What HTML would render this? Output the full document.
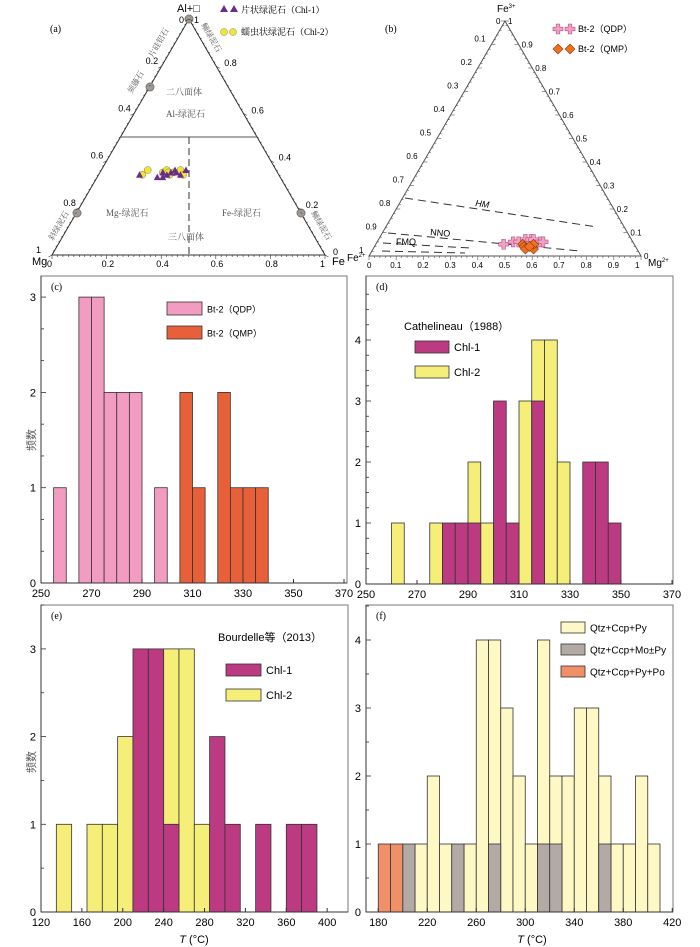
<!DOCTYPE html>
<html><head><meta charset="utf-8">
<style>
body{margin:0;background:#fff}
svg{display:block;font-family:"Liberation Sans","Noto Sans CJK SC",sans-serif}
.s{font-family:"Liberation Serif","Noto Serif CJK SC",serif}
</style></head>
<body>
<svg id="fig" width="700" height="947" viewBox="0 0 700 947" xmlns="http://www.w3.org/2000/svg">
<g id="ta">
 <polygon points="52,255 325,255 189,19" fill="none" stroke="#333" stroke-width="1"/>
 <line x1="120" y1="137" x2="257" y2="137" stroke="#555" stroke-width="1"/>
 <line x1="189" y1="137" x2="189" y2="255" stroke="#333" stroke-dasharray="7,4"/>
 <text x="50" y="32" font-size="10" class="s">(a)</text>
 <text x="177" y="12" font-size="11">Al+□</text>
 <text x="32" y="265" font-size="11">Mg</text>
 <text x="332" y="265" font-size="11">Fe</text>
 <text x="166" y="95" font-size="9" fill="#555" class="s">二八面体</text>
 <text x="166" y="117" font-size="9" fill="#555" class="s">Al-绿泥石</text>
 <text x="106" y="216" font-size="9" fill="#555" class="s">Mg-绿泥石</text>
 <text x="222" y="216" font-size="9" fill="#555" class="s">Fe-绿泥石</text>
 <text x="168" y="240" font-size="9" fill="#555" class="s">三八面体</text>
 <text x="153" y="58" font-size="8" fill="#555" class="s" transform="rotate(-60 153 58)">片硅铝石</text>
 <text x="132" y="94" font-size="8" fill="#555" class="s" transform="rotate(-60 132 94)">须藤石</text>
 <text x="53" y="241" font-size="8" fill="#555" class="s" transform="rotate(-60 53 241)">斜绿泥石</text>
 <text x="201" y="25" font-size="8" fill="#555" class="s" transform="rotate(60 201 25)">鲕绿泥石</text>
 <text x="311" y="213" font-size="8" fill="#555" class="s" transform="rotate(60 311 213)">鲕绿泥石</text>
 <circle cx="189" cy="19" r="4" fill="#a09a94" stroke="#777"/>
 <circle cx="150" cy="87" r="4" fill="#a09a94" stroke="#777"/>
 <circle cx="77" cy="213" r="4" fill="#a09a94" stroke="#777"/>
 <circle cx="301" cy="213" r="4" fill="#a09a94" stroke="#777"/>
 <polygon points="220,12 224,5 228,12" fill="#6a2d8a"/><polygon points="230,12 234,5 238,12" fill="#6a2d8a"/>
 <text x="241" y="13" font-size="9" class="s">片状绿泥石（Chl-1）</text>
 <circle cx="224" cy="32" r="3.5" fill="#f0e62a" stroke="#888" stroke-width=".5"/><circle cx="233" cy="32" r="3.5" fill="#f0e62a" stroke="#888" stroke-width=".5"/>
 <text x="241" y="35" font-size="9" class="s">蠕虫状绿泥石（Chl-2）</text>
 <g id="ptsA"></g>
</g>
<g id="tb">
 <polygon points="369,256 641,256 505,21" fill="none" stroke="#555" stroke-width="1"/>
 <text x="385" y="32" font-size="10" class="s">(b)</text>
 <text x="497" y="12" font-size="10">Fe<tspan font-size="6" dy="-4">3+</tspan></text>
 <text x="347" y="261" font-size="10">Fe<tspan font-size="6" dy="-4">2+</tspan></text>
 <text x="648" y="266" font-size="10">Mg<tspan font-size="6" dy="-4">2+</tspan></text>
 <line x1="405" y1="198" x2="597" y2="227" stroke="#333" stroke-dasharray="8,5"/>
 <line x1="388" y1="233" x2="580" y2="251" stroke="#333" stroke-dasharray="8,5"/>
 <line x1="383" y1="243" x2="470" y2="248" stroke="#333" stroke-dasharray="8,5"/>
 <line x1="382" y1="251" x2="465" y2="253" stroke="#333" stroke-dasharray="8,5"/>
 <text x="475" y="206" font-size="9" font-style="italic" transform="rotate(8 475 206)">HM</text>
 <text x="430" y="235" font-size="9" transform="rotate(5 430 235)">NNO</text>
 <text x="396" y="245" font-size="9">FMQ</text>
 <text x="578" y="32" font-size="9">Bt-2（QDP）</text>
 <text x="578" y="52" font-size="9">Bt-2（QMP）</text>
 <g id="legB"></g><g id="ptsB"></g>
</g>
<g id="hist"></g>
</svg>
<script>
// ---- panel (c) data ----
const cBins=[255,265,270,275,280,285,295,305,310,320,325,330,335];
const cQDP=[1,3,3,2,2,2,1,0,0,0,0,0,0];
const cQMP=[0,0,0,0,0,0,0,2,1,2,1,1,1];
// ---- panel (d) data ----
const dBins=[260,275,280,285,290,295,300,305,310,315,320,325,335,340,345];
const dChl2=[1,1,0,0,2,1,0,0,3,4,4,2,0,0,0];
const dChl1=[0,0,1,1,1,0,3,1,0,3,0,0,2,2,1];
// ---- panel (e) data ----
const eBins=[135,165,180,195,210,225,240,255,270,285,300,330,360,375];
const eChl2=[1,1,1,2,0,0,3,3,1,0,0,0,0,0];
const eChl1=[0,0,0,0,3,3,1,0,0,2,1,1,1,1];
// ---- panel (f) data ----
const fBins=[180,190,200,210,220,230,240,250,260,270,280,290,300,310,320,330,340,350,360,370,380,390,400];
const fPy=[0,0,0,1,2,1,0,1,4,4,3,2,1,4,2,2,3,3,2,1,1,2,1];
const fMo=[0,0,1,0,0,0,1,0,0,1,0,0,0,1,1,0,0,0,1,0,0,0,0];
const fPo=[1,1,0,0,0,0,0,0,0,0,0,0,0,0,0,0,0,0,0,0,0,0,0];
// ---- ternary point data ----
const aChl1Al=[0.34,0.33,0.35,0.34,0.35,0.36,0.35,0.34,0.36,0.33];
const aChl1Fe=[0.15,0.22,0.23,0.25,0.26,0.27,0.28,0.3,0.31,0.24];
const aChl2Al=[0.36,0.34,0.35,0.36,0.34,0.35,0.36,0.34,0.35];
const aChl2Fe=[0.17,0.16,0.23,0.24,0.26,0.27,0.29,0.31,0.25];
const bQDPFe3=[0.05,0.06,0.06,0.07,0.07,0.07,0.06,0.06];
const bQDPMg=[0.47,0.5,0.52,0.54,0.56,0.57,0.6,0.61];
const bQMPFe3=[0.05,0.04,0.03,0.04,0.03,0.05,0.04];
const bQMPMg=[0.54,0.55,0.56,0.58,0.59,0.58,0.57];

const NS='http://www.w3.org/2000/svg';
function mk(p,tag,at,txt){const e=document.createElementNS(NS,tag);for(const k in at)e.setAttribute(k,at[k]);if(txt!==undefined)e.textContent=txt;p.appendChild(e);return e;}
const H=document.getElementById('hist');

(function(){
 const g=document.getElementById('ta');
 const L=[52,255],R=[325,255],T=[189,19];
 for(let i=0;i<=50;i++){const f=i/50,len=i%10==0?4:2;
  let x=L[0]+f*(R[0]-L[0]);mk(g,'line',{x1:x,y1:255,x2:x,y2:255+len,stroke:'#333','stroke-width':.6});
  let xl=T[0]+f*(L[0]-T[0]),yl=T[1]+f*(L[1]-T[1]);mk(g,'line',{x1:xl,y1:yl,x2:xl-len*.87,y2:yl+len*.5,stroke:'#333','stroke-width':.6});
  let xr=T[0]+f*(R[0]-T[0]),yr=T[1]+f*(R[1]-T[1]);mk(g,'line',{x1:xr,y1:yr,x2:xr+len*.87,y2:yr+len*.5,stroke:'#333','stroke-width':.6});
 }
 for(let i=0;i<=5;i++){const f=i/5,s=['0','0.2','0.4','0.6','0.8','1'][i];
  mk(g,'text',{x:L[0]+f*273-5,y:267,'font-size':9},s);
  mk(g,'text',{x:T[0]+f*(L[0]-T[0])-(i==0?10:16),y:T[1]+f*236-(i==0?-4:2),'font-size':9},s);
  mk(g,'text',{x:T[0]+f*(R[0]-T[0])+(i==0?5:8),y:T[1]+f*236+(i==0?4:0),'font-size':9},['1','0.8','0.6','0.4','0.2','0'][i]);
 }
 const P=document.getElementById('ptsA');
 function pos(al,fe){const mg=1-al-fe;return [L[0]*mg+R[0]*fe+T[0]*al,L[1]*mg+R[1]*fe+T[1]*al];}
 aChl2Al.forEach((a,i)=>{const p=pos(a,aChl2Fe[i]);const c=mk(P,'circle',{cx:p[0],cy:p[1],r:3.5,fill:'#f0e62a',stroke:'#777','stroke-width':.5});
  
  });
 aChl1Al.forEach((a,i)=>{const p=pos(a,aChl1Fe[i]);const c=mk(P,'polygon',{points:`${p[0]-3.5},${p[1]+3} ${p[0]},${p[1]-3.5} ${p[0]+3.5},${p[1]+3}`,fill:'#6a2d8a'});
  
  });
})();
(function(){
 const g=document.getElementById('tb');
 const L=[369,256],R=[641,256],T=[505,21];
 for(let i=0;i<=50;i++){const f=i/50,len=i%5==0?4:2;
  let x=L[0]+f*272;mk(g,'line',{x1:x,y1:256,x2:x,y2:256+len,stroke:'#555','stroke-width':.6});
  let xl=T[0]+f*(L[0]-T[0]),yl=T[1]+f*235;mk(g,'line',{x1:xl,y1:yl,x2:xl+len,y2:yl,stroke:'#555','stroke-width':.6});
  let xr=T[0]+f*(R[0]-T[0]),yr=T[1]+f*235;mk(g,'line',{x1:xr,y1:yr,x2:xr-len,y2:yr,stroke:'#555','stroke-width':.6});
 }
 for(let i=0;i<=10;i++){const f=i/10,s=i==0?'0':i==10?'1':(i/10).toFixed(1);
  mk(g,'text',{x:L[0]+f*272-(i==0?2:6),y:268,'font-size':8},s);
  if(i>0)mk(g,'text',{x:T[0]+f*(L[0]-T[0])-(i==10?10:17),y:T[1]+f*235-3,'font-size':8},s);
  mk(g,'text',{x:T[0]+f*(R[0]-T[0])+3,y:T[1]+f*235+3,'font-size':8},(10-i)==0?'0':(10-i)==10?'1':((10-i)/10).toFixed(1));
 }
 mk(g,'text',{x:496,y:24,'font-size':8},'0');
 const P=document.getElementById('ptsB');
 function cross(x,y,p){return mk(p,'path',{d:`M${x-1.8},${y-5}h3.6v3.2h3.2v3.6h-3.2v3.2h-3.6v-3.2h-3.2v-3.6h3.2z`,fill:'#f2a0c4',stroke:'#b05080','stroke-width':.6});}
 function dia(x,y,p){return mk(p,'polygon',{points:`${x},${y-5} ${x+5},${y} ${x},${y+5} ${x-5},${y}`,fill:'#f07020',stroke:'#8a3a10','stroke-width':.6});}
 function pos(f3,mg){const f2=1-f3-mg;return [L[0]*f2+R[0]*mg+T[0]*f3,L[1]*f2+R[1]*mg+T[1]*f3];}
 const Lg=document.getElementById('legB');cross(558,29,Lg);cross(570,29,Lg);dia(558,49,Lg);dia(570,49,Lg);
 bQDPFe3.forEach((f,i)=>{const p=pos(f,bQDPMg[i]);const c=cross(p[0],p[1],P);
  
  });
 bQMPFe3.forEach((f,i)=>{const p=pos(f,bQMPMg[i]);const c=dia(p[0],p[1],P);
  
  });
})();

function panel(cfg){
 const g=mk(H,'g',{});
 
 
 const X=v=>cfg.x0+(v-cfg.xmin)*cfg.kx, Y=v=>cfg.y0-v*cfg.ky;
 mk(g,'rect',{x:cfg.x0,y:cfg.top,width:cfg.right-cfg.x0,height:cfg.y0-cfg.top,fill:'none',stroke:'#777','stroke-width':1});
 cfg.series.forEach(s=>{cfg.bins.forEach((b,i)=>{const v=s.vals[i];if(!v)return;
  const r=mk(g,'rect',{x:X(b),y:Y(v),width:X(b+cfg.w)-X(b),height:v*cfg.ky,fill:s.color,stroke:'#333','stroke-width':.8});
  
  });});
 mk(g,'line',{x1:cfg.x0,y1:cfg.y0,x2:cfg.right,y2:cfg.y0,stroke:'#333','stroke-width':1});
 mk(g,'line',{x1:cfg.x0,y1:cfg.top,x2:cfg.x0,y2:cfg.y0,stroke:'#333','stroke-width':1});
 cfg.xt.forEach(t=>{mk(g,'line',{x1:X(t),y1:cfg.y0,x2:X(t),y2:cfg.y0-4,stroke:'#333'});
  mk(g,'text',{x:X(t),y:cfg.y0+14,'font-size':11,'text-anchor':'middle'},String(t));});
 for(let v=0;v<=cfg.ymax;v+=cfg.ym){const maj=Math.abs(v-Math.round(v))<1e-6;
  mk(g,'line',{x1:cfg.x0,y1:Y(v),x2:cfg.x0+(maj?5:3),y2:Y(v),stroke:'#333','stroke-width':.8});
  if(maj)mk(g,'text',{x:cfg.x0-5,y:Y(v)+4,'font-size':11,'text-anchor':'end'},String(Math.round(v)));}
 mk(g,'text',{x:cfg.x0+10,y:cfg.top+14,'font-size':10,class:'s'},cfg.label);
 cfg.leg.forEach(l=>{mk(g,'rect',{x:l[0],y:l[1],width:l[2],height:l[3],fill:l[4],stroke:'#333','stroke-width':.8});
  mk(g,'text',{x:l[0]+l[2]+5,y:l[1]+l[3]/2+4,'font-size':l[6]||9},l[5]);});
 (cfg.extra||[]).forEach(e=>mk(g,'text',e[0],e[1]));
 if(cfg.xtitle){const t=mk(g,'text',{x:cfg.xtitle,y:943,'font-size':11,'text-anchor':'middle'});
  mk(t,'tspan',{'font-style':'italic'},'T');mk(t,'tspan',{},' (°C)');}
}
panel({name:'histogram-c',label:'(c)',x0:41,xmin:250,kx:2.525,y0:583,ky:95.3,top:276,right:347,w:5,bins:cBins,
 series:[{key:'qdp',vals:cQDP,color:'#f39cc2'},{key:'qmp',vals:cQMP,color:'#e8603a'}],
 xt:[250,270,290,310,330,350,370],ymax:3,ym:1/3,
 leg:[[167,302,35,13,'#f39cc2','Bt-2（QDP）'],[167,326,35,13,'#e8603a','Bt-2（QMP）']],
 extra:[[{x:35,y:440,'font-size':11,transform:'rotate(-90 35 440)','text-anchor':'middle',fill:'#555'},'频数']]});
panel({name:'histogram-d',label:'(d)',x0:366,xmin:250,kx:2.55,y0:584,ky:61,top:276,right:673,w:5,bins:dBins,
 series:[{key:'chl2',vals:dChl2,color:'#f5ee78'},{key:'chl1',vals:dChl1,color:'#bc3a82'}],
 xt:[250,270,290,310,330,350,370],ymax:4.75,ym:0.25,
 leg:[[415,341,34,12,'#bc3a82','Chl-1',11],[415,366,34,12,'#f5ee78','Chl-2',11]],
 extra:[[{x:404,y:330,'font-size':11},'Cathelineau（1988）']]});
panel({name:'histogram-e',label:'(e)',x0:41,xmin:120,kx:1.022,y0:912,ky:87.7,top:605,right:348,w:15,bins:eBins,xtitle:194,
 series:[{key:'chl2',vals:eChl2,color:'#f5ee78'},{key:'chl1',vals:eChl1,color:'#bc3a82'}],
 xt:[120,160,200,240,280,320,360,400],ymax:3.5,ym:0.5,
 leg:[[226,664,35,12,'#bc3a82','Chl-1',11],[226,689,35,12,'#f5ee78','Chl-2',11]],
 extra:[[{x:218,y:641,'font-size':11},'Bourdelle等（2013）'],[{x:35,y:762,'font-size':11,transform:'rotate(-90 35 762)','text-anchor':'middle',fill:'#555'},'频数']]});
panel({name:'histogram-f',label:'(f)',x0:366,xmin:170,kx:1.225,y0:912,ky:68,top:605,right:673,w:10,bins:fBins,xtitle:532,
 series:[{key:'py',vals:fPy,color:'#fdf8c4'},{key:'mo',vals:fMo,color:'#b3aaa6'},{key:'po',vals:fPo,color:'#f09068'}],
 xt:[180,220,260,300,340,380,420],ymax:4.5,ym:0.5,
 leg:[[561,622,24,11,'#fdf8c4','Qtz+Ccp+Py',10],[561,644,24,11,'#b3aaa6','Qtz+Ccp+Mo±Py',10],[561,666,24,11,'#f09068','Qtz+Ccp+Py+Po',10]]});
</script>
</body></html>
